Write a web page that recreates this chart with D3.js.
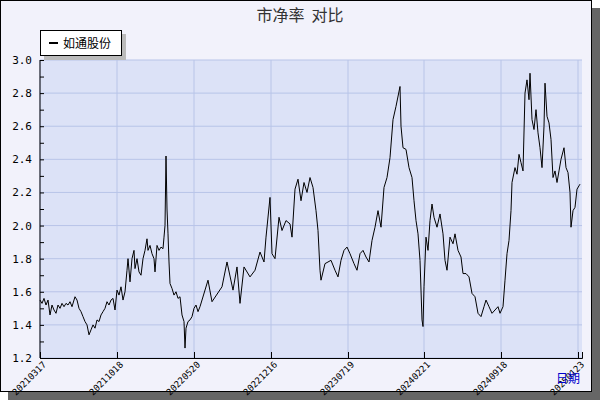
<!DOCTYPE html><html><head><meta charset="utf-8"><script src="https://cdn.jsdelivr.net/npm/d3@7"></script>
<style>body{margin:0;background:#fff}</style></head><body><svg id="c" width="600" height="400"></svg><script>
const tickLabels=["20210317","20211018","20220520","20221216","20230719","20240221","20240918","20250123"];
const tickPos=[0,77,154,231,308,384,461,538];
const t=[0,2,4,6,8,10,12,14,16,18,20,22,24,26,28,30,32,35,37,39,41,43,45,47,49,51,53,55,57,59,61,63,65,67,69,71,73,75,77,79,81,83,85,87,88,90,92,94,95,97,99,101,103,105,107,108,110,112,114,115,117,119,121,123,124,125,126,127,128,129,130,132,134,136,138,140,142,144,145,146,148,150,152,154,156,158,160,
168,172,182,187,193,197,200,204,210,215,220,224,226,230,232,235,239,242,246,250,252,255,258,261,264,267,270,273,276,278,280,281,285,291,295,298,301,304,307,310,314,317,320,323,326,329,332,335,338,341,344,347,350,353,356,360,361,363,366,369,372,374,376,378,380,382,383,384,386,388,390,392,394,397,400,403,405,407,410,413,415,418,421,423,426,429,432,435,438,441,444,446,449,452,455,458,460,463,465,467,469,471,472,475,477,479,481,483,485,487,489,490,492,494,496,498,500,502,504,505,507,509,511,513,515,517,519,521,524,526,528,530,531,533,535,537,539,540];
const v=[1.55,1.53,1.56,1.52,1.55,1.46,1.52,1.49,1.47,1.52,1.50,1.53,1.51,1.53,1.52,1.54,1.51,1.57,1.55,1.50,1.48,1.45,1.42,1.40,1.34,1.37,1.40,1.38,1.43,1.42,1.46,1.48,1.50,1.54,1.52,1.55,1.56,1.49,1.61,1.58,1.63,1.55,1.60,1.73,1.80,1.66,1.80,1.85,1.74,1.80,1.72,1.70,1.80,1.85,1.92,1.85,1.88,1.83,1.80,1.72,1.88,1.85,1.87,1.86,1.93,2.0,2.42,2.1,1.95,1.78,1.65,1.62,1.58,1.60,1.56,1.57,1.46,1.42,1.26,1.38,1.42,1.43,1.45,1.50,1.52,1.48,1.51,
1.67,1.54,1.63,1.78,1.61,1.75,1.53,1.75,1.69,1.73,1.84,1.78,1.93,2.17,1.83,1.80,2.05,1.97,2.03,2.01,1.93,2.22,2.28,2.15,2.26,2.20,2.29,2.23,2.09,1.97,1.73,1.67,1.77,1.79,1.73,1.69,1.79,1.85,1.87,1.83,1.77,1.73,1.83,1.85,1.81,1.78,1.91,1.99,2.09,1.99,2.23,2.29,2.41,2.64,2.72,2.84,2.60,2.47,2.46,2.35,2.29,2.15,2.03,1.95,1.79,1.43,1.39,1.63,1.93,1.85,2.03,2.13,2.05,1.99,2.07,1.95,1.79,1.73,1.93,1.89,1.95,1.85,1.81,1.71,1.71,1.69,1.59,1.57,1.47,1.45,1.51,1.55,1.51,1.47,1.49,1.51,1.47,1.51,1.67,1.83,1.91,2.09,2.26,2.35,2.31,2.43,2.38,2.33,2.80,2.88,2.76,2.92,2.64,2.58,2.70,2.56,2.47,2.35,2.60,2.86,2.66,2.62,2.52,2.29,2.33,2.26,2.33,2.40,2.47,2.35,2.32,2.20,1.99,2.09,2.11,2.22,2.24,2.25];
const yTicks=[1.2,1.4,1.6,1.8,2.0,2.2,2.4,2.6,2.8,3.0];
const svg=d3.select("#c");
svg.append("rect").attr("x",8).attr("y",8).attr("width",592).attr("height",392).attr("fill","#666");
svg.append("rect").attr("x",0.5).attr("y",0.5).attr("width",591).attr("height",391).attr("fill","#f2f2fb").attr("stroke","#000");
const L=40,R=582,T=60,B=358;
const x=d3.scaleLinear().domain([0,542]).range([L,R]);
const y=d3.scaleLinear().domain([1.2,3.0]).range([B,T]);
svg.append("rect").attr("x",L).attr("y",T).attr("width",R-L).attr("height",B-T).attr("fill","#dce2f7");
const g=svg.append("g");
g.selectAll(".h").data(yTicks).join("line").attr("x1",L).attr("x2",R).attr("y1",d=>y(d)).attr("y2",d=>y(d)).attr("stroke","#b8c4e8");
g.selectAll(".v").data(tickPos).join("line").attr("x1",d=>x(d)).attr("x2",d=>x(d)).attr("y1",T).attr("y2",B).attr("stroke","#b8c4e8");
const ya=svg.append("g").attr("transform",`translate(${L},0)`).call(d3.axisLeft(y).tickValues(d3.range(1.2,3.01,0.1)).tickSize(4).tickFormat(d=>{const r=Math.round(d*10);return r%2===0?(r/10).toFixed(1):"";}));
ya.select(".domain").remove();
ya.selectAll(".tick line").attr("x2",4).attr("stroke","#000");
ya.selectAll("text").attr("x",-8).attr("font-family","DejaVu Sans Mono").attr("font-size",11).attr("fill","#000");
const xa=svg.append("g").attr("transform",`translate(0,${B})`).call(d3.axisBottom(x).tickValues(tickPos).tickSize(-6).tickFormat((d,i)=>tickLabels[i]));
xa.select(".domain").attr("stroke","#000");
xa.selectAll("text").attr("font-family","DejaVu Sans Mono").attr("font-size",9).attr("fill","#000").attr("text-anchor","end").attr("transform","translate(4,5) rotate(-45)").attr("dy","0.35em").attr("y",0);
svg.append("line").attr("x1",L).attr("x2",L).attr("y1",T).attr("y2",B).attr("stroke","#000");
svg.append("path").datum(t.map((d,i)=>[d,v[i]])).attr("fill","none").attr("stroke","#000").attr("stroke-width",1).attr("d",d3.line().x(d=>x(d[0])).y(d=>y(d[1])));
svg.append("text").attr("x",300).attr("y",21).attr("text-anchor","middle").attr("font-family","Noto Sans CJK SC").attr("font-size",16).attr("fill","#333").attr("xml:space","preserve").style("white-space","pre").text("市净率  对比");
svg.append("rect").attr("x",44).attr("y",34).attr("width",82).attr("height",26).attr("fill","#bbb");
svg.append("rect").attr("x",40.5).attr("y",30.5).attr("width",81).attr("height",25).attr("fill","#fff").attr("stroke","#000");
svg.append("line").attr("x1",49).attr("x2",58).attr("y1",43).attr("y2",43).attr("stroke","#000").attr("stroke-width",2);
svg.append("text").attr("x",63).attr("y",48).attr("font-family","Noto Sans CJK SC").attr("font-size",12).attr("fill","#000").text("如通股份");
svg.append("text").attr("x",556).attr("y",383).attr("font-family","Noto Sans CJK SC").attr("font-size",12).attr("fill","#0000cc").text("日期");
</script></body></html>
